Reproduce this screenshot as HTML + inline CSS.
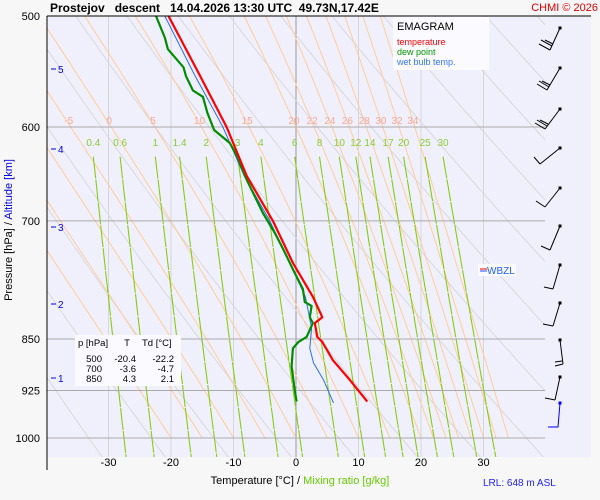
<!DOCTYPE html>
<html><head><meta charset="utf-8"><style>
body{margin:0;background:#f7f7f7;}
svg{display:block;font-family:"Liberation Sans",sans-serif;}
</style></head><body>
<svg id="chart" width="600" height="500" viewBox="0 0 600 500">
<defs>
<clipPath id="cp"><rect x="47" y="16" width="498" height="422"/></clipPath>
<clipPath id="cp2"><rect x="47" y="16" width="498" height="441"/></clipPath>
</defs>
<rect x="0" y="0" width="600" height="500" fill="#f7f7f7"/>
<rect x="48" y="17" width="543" height="440" fill="#f0f0fc"/>
<g id="grid"></g>
<g id="dry" clip-path="url(#cp2)"></g>
<g id="moist" clip-path="url(#cp)"></g>
<g id="mix" clip-path="url(#cp2)"></g>
<g id="hgrid"></g>
<g id="labels"></g>
<g id="series"></g>
<line x1="47" y1="16" x2="591" y2="16" stroke="#000"/>
<line x1="47" y1="16" x2="47" y2="470" stroke="#000"/>
<text x="50" y="12" font-size="12" font-weight="bold" xml:space="preserve">Prostejov   descent   14.04.2026 13:30 UTC  49.73N,17.42E</text>
<text x="598" y="11" font-size="11" fill="#e00000" text-anchor="end">CHMI © 2026</text>
<g id="yticks"></g>
<g id="xticks"></g>
<g id="alt"></g>
<text transform="translate(12,230) rotate(-90)" font-size="11" text-anchor="middle">Pressure [hPa]  /  <tspan fill="#0000e0">Altitude [km]</tspan></text>
<text x="300" y="484" font-size="11" text-anchor="middle">Temperature [°C]  /  <tspan fill="#66cc00">Mixing ratio [g/kg]</tspan></text>
<text x="483" y="486" font-size="10" fill="#2020ff">LRL: 648 m ASL</text>
<g>
<rect x="393" y="17" width="96" height="53" fill="#fafaff"/>
<text x="397" y="30" font-size="11">EMAGRAM</text>
<text x="397" y="45" font-size="9" fill="#ff0000">temperature</text>
<text x="397" y="55" font-size="9" fill="#009900">dew point</text>
<text x="397" y="65" font-size="9" fill="#3377ff">wet bulb temp.</text>
</g>
<g>
<rect x="75" y="335" width="106" height="51" fill="#fafaff"/>
<text x="78" y="346" font-size="9.5">p [hPa]</text>
<text x="127" y="346" font-size="9.5" text-anchor="middle">T</text>
<text x="142" y="346" font-size="9.5">Td [°C]</text>
<g id="tbl"></g>
</g>
<g>
<rect x="478" y="264" width="38" height="12" fill="#fafaff"/>
<line x1="480" y1="269" x2="487" y2="269" stroke="#ff0000"/>
<line x1="480" y1="271" x2="487" y2="271" stroke="#2050ff"/>
<text x="487" y="274" font-size="10" fill="#2060ff">WBZL</text>
</g>
<g id="barbs"></g>
</svg>
<script>
// ---- data ----
const tempP = [500,550,600,650,700,750,793,820,828,847,854,880,909,942];
const tempT = [-20.4,-15.5,-11.1,-7.9,-3.7,-0.5,2.7,4.2,3.0,3.4,4.2,5.9,8.6,11.4];
const dewP = [500,518,528,544,552,565,571,586,603,616,630,654,691,714,734,758,783,800,805,820,828,847,854,863,889,925,942];
const dewT = [-22.4,-21,-20.5,-18,-17.6,-16.5,-14.9,-14.2,-13.1,-10.6,-9.4,-7.9,-5.3,-3.4,-2.0,-0.5,1.1,1.4,2.5,2.2,2.7,1.7,0.4,-0.5,-0.7,-0.2,0.1];
const wbP = [500,550,600,650,700,750,793,835,863,884,909,944];
const wbT = [-21,-16.3,-11.7,-8.3,-4.2,-1.0,1.5,2.5,2.2,2.8,4.4,6.0];
const tableP = ["500","700","850"];
const tableT = ["-20.4","-3.6","4.3"];
const tableTd = ["-22.2","-4.7","2.1"];
const pTicks = [500,600,700,850,925,1000];
const tTicks = [-30,-20,-10,0,10,20,30];
const altKm = [5,4,3,2,1];
const altY = [69,149,227,304,378];
const moistTheta = [-20,-15,-10,-5,0,5,10,15,20,22,24,26,28,30,32,34];
const moistLabels = [-5,0,5,10,15,20,22,24,26,28,30,32,34];
const mixW = [0.4,0.6,1,1.4,2,3,4,6,8,10,12,14,17,20,25,30];
const dryTheta = [230,240,250,260,270,280,290,300,310,320,330,340,350,360,370,380,390,400,410,420,430,440];

const NS="http://www.w3.org/2000/svg";
const X = t => 296 + 6.25*t;
const Y = p => 16 + Math.log(p/500)/Math.log(2)*422;
function el(tag, attrs, parent){const e=document.createElementNS(NS,tag);for(const k in attrs)e.setAttribute(k,attrs[k]);document.getElementById(parent).appendChild(e);return e;}
function txt(x,y,s,attrs,parent){const e=el('text',Object.assign({x:x,y:y},attrs),parent);e.textContent=s;return e;}

tTicks.forEach(t=>{
  const l=el('line',{x1:X(t),y1:16,x2:X(t),y2:457,stroke:t===0?'#999':'#d6d6d6','stroke-width':1},'grid');
  
  
  const tx=txt(X(t),466,String(t),{'font-size':11,'text-anchor':'middle'},'xticks');
  
  
});
pTicks.forEach(p=>{
  if(p>500){const l=el('line',{x1:47,y1:Y(p),x2:545,y2:Y(p),stroke:'#aaa','stroke-width':1},'hgrid');
  
  }
  const tx=txt(40,Y(p)+4,String(p),{'font-size':11,'text-anchor':'end'},'yticks');
  
  
});
altKm.forEach((k,i)=>{
  const l=el('line',{x1:51,y1:altY[i],x2:56,y2:altY[i],stroke:'#0000e0'},'alt');
  
  
  const tx=txt(58,altY[i]+4,String(k),{'font-size':10,fill:'#0000e0'},'alt');
  
  
});
dryTheta.forEach(th=>{
  let d='';for(let p=440;p<=1060;p+=20){const T=th*Math.pow(p/1000,0.2857)-273.15;d+=(d?'L':'M')+X(T).toFixed(1)+','+Y(p).toFixed(1);}
  const e=el('path',{d:d,fill:'none',stroke:'#d8d8dc','stroke-width':1},'dry');
  
  
});
function es(T){return 6.112*Math.exp(17.67*T/(T+243.5));}
function moistPath(tw){
  let T=tw+273.15;
  const f=(T,p)=>{const e=es(T-273.15),rs=0.622*e/(p-e),Lv=2.5e6,Rd=287,cp=1005;return (Rd*T+Lv*rs)/(cp+Lv*Lv*rs*0.622/(Rd*T*T))/p;};
  const up=[];let Tt=T;for(let q=1000;q>=440;q-=5){up.push([q,Tt]);Tt-=f(Tt,q)*5;}
  const dn=[];Tt=T;for(let q=1000;q<=1060;q+=5){dn.push([q,Tt]);Tt+=f(Tt,q)*5;}
  return up.reverse().concat(dn.slice(1));
}
moistTheta.forEach(tw=>{
  const pts=moistPath(tw);
  const d=pts.map((a,i)=>(i?'L':'M')+X(a[1]-273.15).toFixed(1)+','+Y(a[0]).toFixed(1)).join('');
  const e=el('path',{d:d,fill:'none',stroke:'#ffcc99','stroke-width':1},'moist');
  
  
  if(moistLabels.includes(tw)){
    const a=pts.find(q=>q[0]===600);
    const tx=txt(X(a[1]-273.15)-2,124,String(tw),{'font-size':10,fill:'#f8a898','text-anchor':'middle'},'labels');
    
    
  }
});
function tdFromW(w,p){const e=w*p/(622+w);const l=Math.log(e/6.112);return 243.5*l/(17.67-l);}
mixW.forEach(w=>{
  let d='';for(let p=630;p<=1035;p+=15){d+=(d?'L':'M')+X(tdFromW(w,p)).toFixed(1)+','+Y(p).toFixed(1);}
  const e=el('path',{d:d,fill:'none',stroke:'#88cc11','stroke-width':1.1,'stroke-dasharray':'22 1'},'mix');
  
  
  const tx=txt(X(tdFromW(w,630)),146,String(w),{'font-size':10,fill:'#88cc33','text-anchor':'middle'},'labels');
  
  
});
function series(P,T,color,w,name){
  const d=P.map((p,i)=>(i?'L':'M')+X(T[i]).toFixed(1)+','+Y(p).toFixed(1)).join('');
  const e=el('path',{d:d,fill:'none',stroke:color,'stroke-width':w,'stroke-linejoin':'round'},'series');
  
  
}
series(wbP,wbT,'#2a6fe8',1,'wet-bulb-line');
series(dewP,dewT,'#008c00',2.2,'dew-point-line');
series(tempP,tempT,'#ff0000',2.2,'temperature-line');
tableP.forEach((p,i)=>{
  const y=362+i*10;
  let t=txt(102,y,p,{'font-size':9.5,'text-anchor':'end'},'tbl');
  
  
  t=txt(136,y,tableT[i],{'font-size':9.5,'text-anchor':'end'},'tbl');
  
  
  t=txt(174,y,tableTd[i],{'font-size':9.5,'text-anchor':'end'},'tbl');
  
  
});
const barbs=[
 [28,550,50,[[550,50,539,44],[552,46,541,40],[553,44,545,40]]],
 [68,547,90,[[547,90,537,84],[549,87,539,81],[550,85,542,81]]],
 [109,545,129,[[545,129,535,123],[547,126,537,120],[548,124,540,120]]],
 [148,540,164,[[540,164,534,157]]],
 [188,545,207,[[545,207,536,201]]],
 [226,550,250,[[550,250,541,246]]],
 [265,553,289,[[553,289,544,287]]],
 [303,553,326,[[553,326,543,324]]],
 [340,563,364,[[563,364,555,366],[562,361,555,362]]],
 [377,555,400,[[555,400,545,398]]]
];
barbs.forEach(b=>{
  let e=el('line',{x1:560,y1:b[0],x2:b[1],y2:b[2],stroke:'#000'},'barbs');
  
  
  e=el('rect',{x:558.5,y:b[0]-1.5,width:3,height:3,fill:'#000'},'barbs');
  
  
  b[3].forEach(s=>{const f=el('line',{x1:s[0],y1:s[1],x2:s[2],y2:s[3],stroke:'#000'},'barbs');
    
    });
});
let bb=el('path',{d:'M560,403 L558,427 L548,427',fill:'none',stroke:'#0000ff'},'barbs');


bb=el('rect',{x:558.5,y:401.5,width:3,height:3,fill:'#0000ff'},'barbs');


</script>
</body></html>
